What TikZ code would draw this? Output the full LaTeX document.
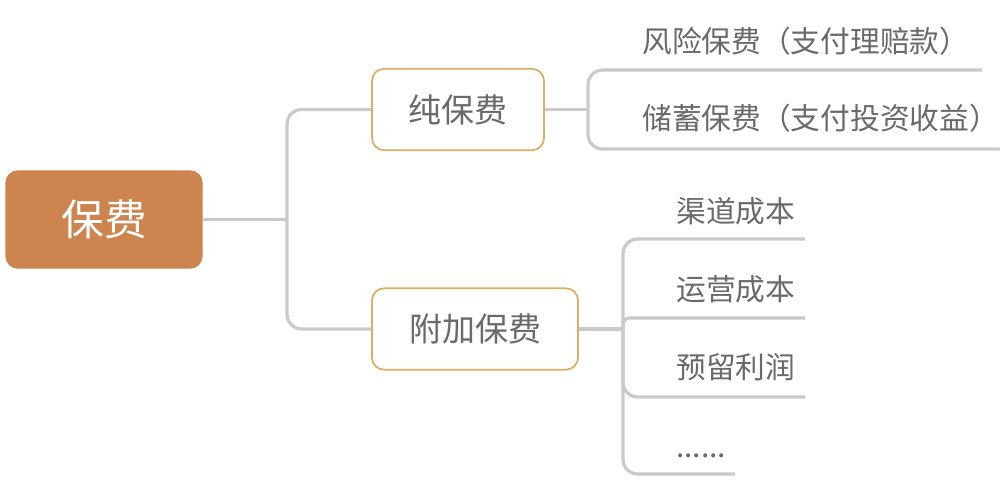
\documentclass[tikz,border=0pt]{standalone}
\usepackage{fontspec}
\setmainfont{Noto Sans CJK SC}
\definecolor{rootfill}{HTML}{CD844F}
\definecolor{boxline}{HTML}{DDAE62}
\definecolor{txt}{HTML}{69696E}
\definecolor{conn}{HTML}{C9C9CE}
\tikzset{
  rootbox/.style={draw=rootfill, fill=rootfill, rounded corners=9pt, line width=1pt,
    minimum width=147pt, minimum height=72.75pt, text=white, inner sep=0pt,
    font=\fontsize{32pt}{36pt}\selectfont},
  midbox/.style={draw=boxline, fill=white, rounded corners=9pt, line width=1.3pt,
    minimum height=61pt, text=txt, inner sep=0pt,
    font=\fontsize{24.75pt}{28pt}\selectfont},
  leaf/.style={anchor=base west, inner sep=0pt, text=txt,
    font=\fontsize{22.3pt}{26pt}\selectfont},
  branch/.style={draw=conn, line width=2.4pt, rounded corners=11pt},
}
\begin{document}
\begin{tikzpicture}[x=0.75pt,y=-0.75pt]
\useasboundingbox (0,0) rectangle (1000,483);
\node[rootbox] (root) at (104,219.5) {保费};
\node[midbox, minimum width=129pt] (pure) at (458,109.5) {纯保费};
\node[midbox, minimum width=154.5pt] (add) at (475,329) {附加保费};

\coordinate (j1) at (287,219.5);
\coordinate (j2) at (588,109.5);
\coordinate (j3) at (623,329);
\coordinate (e1) at (982,70);
\coordinate (e2) at (1000,149);
\coordinate (e3) at (805,239);
\coordinate (e4) at (805,318);
\coordinate (e5) at (805,397);
\coordinate (e6) at (735,474);

\node[leaf] (l1) at (642,52) {风险保费（支付理赔款）};
\node[leaf] (l2) at (642,129) {储蓄保费（支付投资收益）};
\node[leaf] (l3) at (676,222) {渠道成本};
\node[leaf] (l4) at (676,300) {运营成本};
\node[leaf] (l5) at (676,378) {预留利润};
\node[leaf] (l6) at (676,457) {......};

\draw[branch] (root.east) -- (j1);
\draw[branch] (j1) |- (pure.west);
\draw[branch] (j1) |- (add.west);
\draw[branch] (pure.east) -- (j2);
\draw[branch] (j2) |- (e1);
\draw[branch] (j2) |- (e2);
\draw[branch] (add.east) -- (j3);
\draw[branch] (j3) |- (e3);
\draw[branch, rounded corners=5pt] (j3) |- (e4);
\draw[branch] (j3) |- (e5);
\draw[branch] (j3) |- (e6);
\end{tikzpicture}
\end{document}
